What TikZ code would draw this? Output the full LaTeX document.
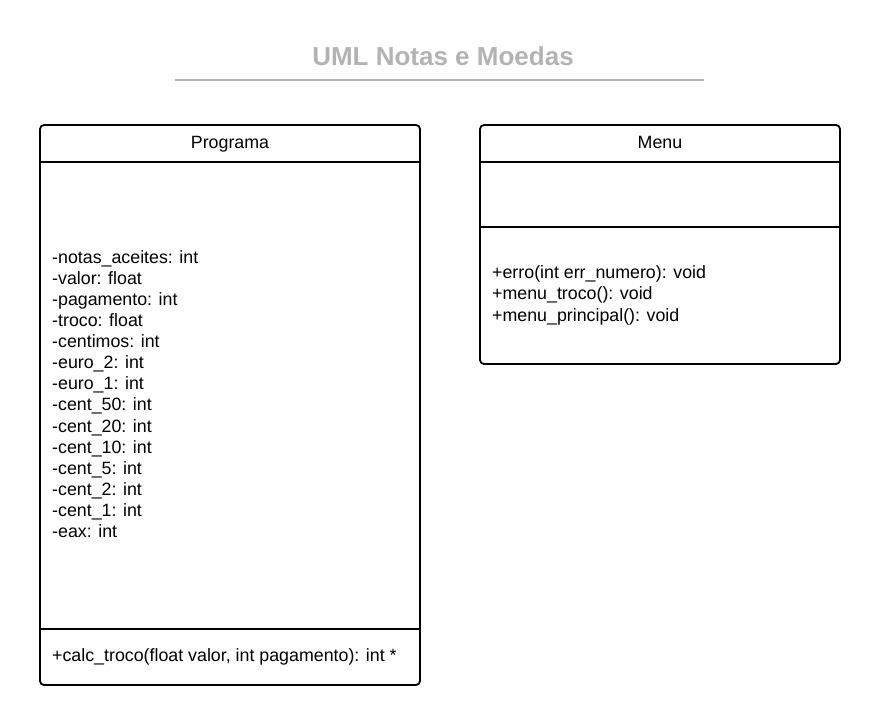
\documentclass[tikz,border=0pt]{standalone}
\usepackage{fontspec}
\setmainfont{Liberation Sans}
\definecolor{titlegray}{HTML}{B3B3B3}
\definecolor{linegray}{HTML}{B0B0B0}
\begin{document}
\begin{tikzpicture}[x=1pt,y=-1pt,
  classbox/.style={draw=black, line width=1.8pt, rounded corners=4pt, inner sep=0pt},
  sepline/.style={draw=black, line width=1.6pt},
  body/.style={font=\fontsize{17.8}{21.1}\selectfont, align=left, inner sep=0pt, anchor=base west},
  head/.style={font=\fontsize{17.8}{21}\selectfont, inner sep=0pt, anchor=base}
]
\useasboundingbox (0,0) rectangle (880,725);
% title
\node[font=\fontsize{26}{30}\selectfont\bfseries, text=titlegray, inner sep=0pt] (title) at (443,56) {UML Notas e Moedas};
\coordinate (tl) at (175,80);
\coordinate (tr) at (704,80);
\draw[linegray, line width=2pt] (tl) -- (tr);
% Programa class
\node[classbox, minimum width=380pt, minimum height=560pt] (prog) at (230,405) {};
\draw[sepline] (prog.west |- 0,162) -- (prog.east |- 0,162);
\draw[sepline] (prog.west |- 0,629) -- (prog.east |- 0,629);
\node[head] (progname) at (230,148.5) {Programa};
\node[body] (progattr) at (52,537.5) {-notas\_aceites: int\\-valor: float\\-pagamento: int\\-troco: float\\-centimos: int\\-euro\_2: int\\-euro\_1: int\\-cent\_50: int\\-cent\_20: int\\-cent\_10: int\\-cent\_5: int\\-cent\_2: int\\-cent\_1: int\\-eax: int};
\node[body] (progops) at (52,661) {+calc\_troco(float valor, int pagamento): int *};
% Menu class
\node[classbox, minimum width=360pt, minimum height=239pt] (menu) at (660,244.5) {};
\draw[sepline] (menu.west |- 0,162) -- (menu.east |- 0,162);
\draw[sepline] (menu.west |- 0,227) -- (menu.east |- 0,227);
\node[head] (menuname) at (660,148.5) {Menu};
\node[body] (menuops) at (492,321) {+erro(int err\_numero): void\\+menu\_troco(): void\\+menu\_principal(): void};
\end{tikzpicture}
\end{document}
